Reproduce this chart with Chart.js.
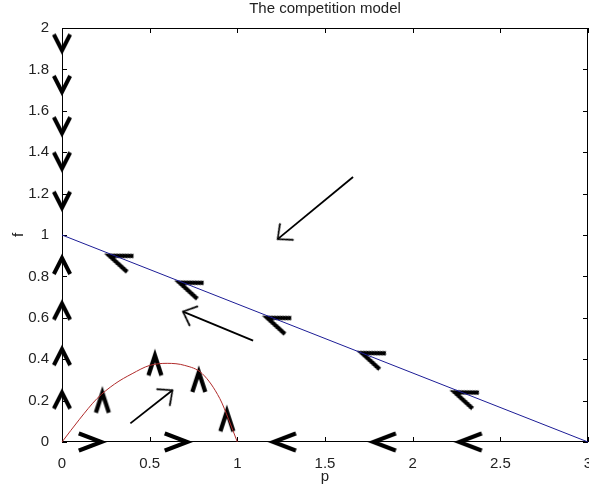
<!DOCTYPE html>
<html>
<head>
<meta charset="utf-8">
<title>The competition model</title>
<script src="https://cdn.jsdelivr.net/npm/chart.js@4.4.1/dist/chart.umd.min.js"></script>
<style>
  html, body { margin: 0; padding: 0; background: #fff; }
  #wrap { width: 589px; height: 498px; }
</style>
</head>
<body>
<div id="wrap"><canvas id="phasePlane"></canvas></div>
<script>
// axis ticks
const xTicks = [0, 0.5, 1, 1.5, 2, 2.5, 3];
const yTicks = [0, 0.2, 0.4, 0.6, 0.8, 1, 1.2, 1.4, 1.6, 1.8, 2];

// straight nullcline f = 1 - p/3
const lineP = [0, 3];
const lineF = [1, 0];

// hump-shaped nullcline
const curveP = [0, 0.1, 0.2, 0.3, 0.4, 0.5, 0.6, 0.7, 0.8, 0.9, 0.95, 1];
const curveF = [0, 0.11, 0.21, 0.28, 0.33, 0.37, 0.38, 0.37, 0.33, 0.21, 0.11, 0];

// direction markers
const downP = [0, 0, 0, 0, 0];
const downF = [1.93, 1.73, 1.53, 1.36, 1.17];
const upAxisP = [0, 0, 0, 0];
const upAxisF = [0.85, 0.63, 0.41, 0.2];
const upCurveP = [0.23, 0.53, 0.78, 0.94];
const upCurveF = [0.19, 0.37, 0.29, 0.1];
const rightP = [0.16, 0.65];
const rightF = [0, 0];
const leftP = [1.27, 1.84, 2.33];
const leftF = [0, 0, 0];
const alongP = [0.33, 0.73, 1.23, 1.77, 2.3];
const alongF = [0.88, 0.75, 0.58, 0.41, 0.22];

// sample trajectories (tail -> head)
const arrowFromP = [1.66, 1.09, 0.39];
const arrowFromF = [1.28, 0.49, 0.09];
const arrowToP = [1.23, 0.69, 0.63];
const arrowToF = [0.98, 0.63, 0.25];

const FONT = "'Liberation Sans', Arial, sans-serif";
const TEXT = '#222';

const pts = (xs, ys) => xs.map((v, i) => ({ x: v, y: ys[i] }));

// chevron pointing up, centred on its own box
function makeChevron(len, halfAngle, width) {
  const c = document.createElement('canvas');
  c.width = c.height = 56;
  const g = c.getContext('2d');
  const a = halfAngle * Math.PI / 180;
  const h = len * Math.cos(a), w = len * Math.sin(a);
  const tipY = 28 - h / 2;
  g.strokeStyle = '#000';
  g.lineWidth = width;
  g.lineJoin = 'miter';
  g.miterLimit = 12;
  g.beginPath();
  g.moveTo(28 - w, tipY + h);
  g.lineTo(28, tipY);
  g.lineTo(28 + w, tipY + h);
  g.stroke();
  return c;
}

// open arrowhead pointing up, tip at the canvas centre
function makeHead(len, halfAngle, width) {
  const c = document.createElement('canvas');
  c.width = c.height = 2 * len + 6;
  const g = c.getContext('2d');
  const m = c.width / 2;
  const a = halfAngle * Math.PI / 180;
  g.strokeStyle = '#000';
  g.lineWidth = width;
  g.beginPath();
  g.moveTo(m - len * Math.sin(a), m + len * Math.cos(a));
  g.lineTo(m, m);
  g.lineTo(m + len * Math.sin(a), m + len * Math.cos(a));
  g.stroke();
  return c;
}

const axisChevron = makeChevron(18, 27, 4);
const curveChevron = makeChevron(21, 18, 4.2);
const flatChevron = makeChevron(24, 21, 4.2);
const head = makeHead(16, 42, 1.8);

// screen angle (clockwise from up) of the segment a -> b
function heading(chart, ax, ay, bx, by) {
  const { x, y } = chart.scales;
  const dx = x.getPixelForValue(bx) - x.getPixelForValue(ax);
  const dy = y.getPixelForValue(by) - y.getPixelForValue(ay);
  return Math.atan2(dx, -dy) * 180 / Math.PI;
}

function markerSet(data, style, rotation) {
  return {
    type: 'scatter',
    data: data,
    showLine: false,
    pointStyle: style,
    pointRadius: 5,
    pointRotation: rotation,
    clip: false
  };
}

function trajectory(i) {
  return {
    type: 'line',
    data: [{ x: arrowFromP[i], y: arrowFromF[i] }, { x: arrowToP[i], y: arrowToF[i] }],
    borderColor: '#000',
    borderWidth: 1.8,
    pointStyle: head,
    pointRadius: [0, 5],
    pointRotation: ctx => heading(ctx.chart, arrowFromP[i], arrowFromF[i], arrowToP[i], arrowToF[i]),
    clip: false
  };
}

// axes box with inward tick marks on all four sides
const boxTicks = {
  id: 'boxTicks',
  beforeDatasetsDraw(chart) {
    const { ctx, chartArea: a, scales: { x, y } } = chart;
    ctx.save();
    ctx.strokeStyle = '#000';
    ctx.lineWidth = 1;
    ctx.strokeRect(a.left + 0.5, a.top + 0.5, a.right - a.left - 1, a.bottom - a.top - 1);
    ctx.beginPath();
    x.ticks.forEach(t => {
      const px = Math.round(x.getPixelForValue(t.value)) + 0.5;
      ctx.moveTo(px, a.bottom); ctx.lineTo(px, a.bottom - 5);
      ctx.moveTo(px, a.top); ctx.lineTo(px, a.top + 5);
    });
    y.ticks.forEach(t => {
      const py = Math.round(y.getPixelForValue(t.value)) + 0.5;
      ctx.moveTo(a.left, py); ctx.lineTo(a.left + 5, py);
      ctx.moveTo(a.right, py); ctx.lineTo(a.right - 5, py);
    });
    ctx.stroke();
    ctx.restore();
  }
};

const labelFont = { family: FONT, size: 15 };

new Chart(document.getElementById('phasePlane'), {
  type: 'scatter',
  data: {
    datasets: [
      {
        type: 'line',
        data: pts(lineP, lineF),
        borderColor: '#1c1c96',
        borderWidth: 1,
        pointRadius: 0,
        clip: false
      },
      {
        type: 'line',
        data: pts(curveP, curveF),
        borderColor: '#b02a2a',
        borderWidth: 1,
        pointRadius: 0,
        cubicInterpolationMode: 'monotone',
        clip: false
      },
      markerSet(pts(downP, downF), axisChevron, 180),
      markerSet(pts(upAxisP, upAxisF), axisChevron, 0),
      markerSet(pts(upCurveP, upCurveF), curveChevron, 0),
      markerSet(pts(rightP, rightF), flatChevron, 90),
      markerSet(pts(leftP, leftF), flatChevron, -90),
      markerSet(pts(alongP, alongF), flatChevron, ctx => heading(ctx.chart, lineP[1], lineF[1], lineP[0], lineF[0])),
      trajectory(0),
      trajectory(1),
      trajectory(2)
    ]
  },
  options: {
    responsive: true,
    maintainAspectRatio: false,
    animation: false,
    events: [],
    layout: { padding: { left: 0, right: 1, top: 0, bottom: 0 }, autoPadding: false },
    plugins: {
      legend: { display: false },
      tooltip: { enabled: false }
    },
    scales: {
      x: {
        type: 'linear',
        min: 0,
        max: 3,
        grid: { display: false },
        border: { display: false },
        afterBuildTicks: s => { s.ticks = xTicks.map(v => ({ value: v })); },
        afterFit: s => { s.height = 56; s.paddingLeft = 0; s.paddingRight = 0; },
        ticks: { color: TEXT, font: labelFont, padding: 5, maxRotation: 0, autoSkip: false, callback: v => String(v) },
        title: { display: true, text: 'p', color: TEXT, font: labelFont, padding: { top: 0, bottom: 12 } }
      },
      // top edge carries the plot title, centred over the axes
      top: {
        type: 'linear',
        position: 'top',
        axis: 'x',
        min: 0,
        max: 3,
        grid: { display: false },
        border: { display: false },
        ticks: { display: false },
        afterFit: s => { s.height = 28; s.paddingLeft = 0; s.paddingRight = 0; },
        title: { display: true, text: 'The competition model', color: TEXT, font: labelFont, padding: { top: 0, bottom: 0 } }
      },
      y: {
        type: 'linear',
        min: 0,
        max: 2,
        grid: { display: false },
        border: { display: false },
        afterBuildTicks: s => { s.ticks = yTicks.map(v => ({ value: v })); },
        afterFit: s => { s.width = 62; s.paddingTop = 0; s.paddingBottom = 0; },
        ticks: { color: TEXT, font: labelFont, padding: 5, autoSkip: false, callback: v => String(v) },
        title: { display: true, text: 'f', color: TEXT, font: labelFont, padding: { top: 10, bottom: 0 } }
      }
    }
  },
  plugins: [boxTicks]
});
</script>
</body>
</html>
